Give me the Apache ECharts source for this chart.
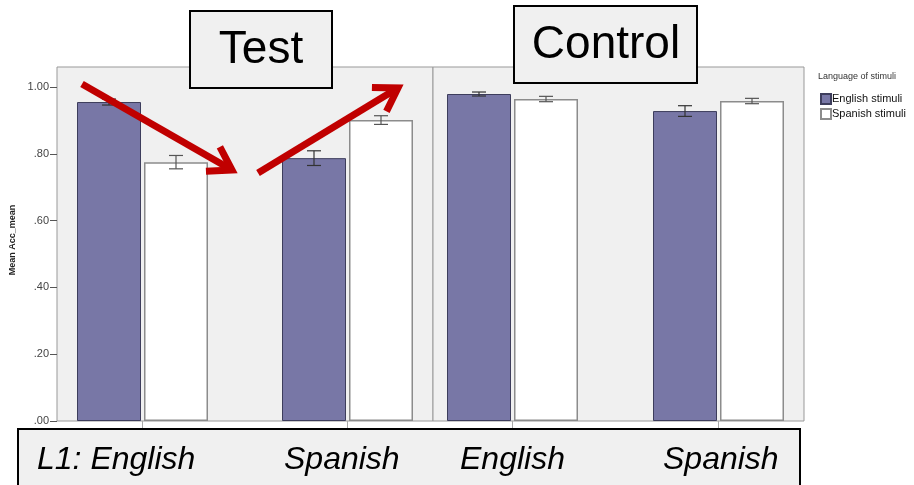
<!DOCTYPE html>
<html>
<head>
<meta charset="utf-8">
<script src="https://cdn.jsdelivr.net/npm/echarts@6/dist/echarts.min.js"></script>
<style>
html,body{margin:0;padding:0;background:#fff;}
#chart{width:914px;height:485px;}
</style>
</head>
<body>
<div id="chart"></div>
<script>
// ---- data ----
var l1Categories = ['English', 'Spanish'];
var seriesNames = ['English stimuli', 'Spanish stimuli'];
var testEnglishStim = [0.955, 0.787];
var testSpanishStim = [0.775, 0.901];
var testEnglishErr = [0.009, 0.022];
var testSpanishErr = [0.020, 0.013];
var controlEnglishStim = [0.979, 0.928];
var controlSpanishStim = [0.964, 0.958];
var controlEnglishErr = [0.006, 0.016];
var controlSpanishErr = [0.008, 0.008];
var yTicks = [0, 0.2, 0.4, 0.6, 0.8, 1.0];
var yTickLabels = ['.00', '.20', '.40', '.60', '.80', '1.00'];
var panelTitles = ['Test', 'Control'];
var bottomLabels = ['L1: English', 'Spanish', 'English', 'Spanish'];
var yAxisTitle = 'Mean Acc_mean';
var legendTitle = 'Language of stimuli';

// ---- styles ----
var purple = '#7877a6';
var font = 'Liberation Sans, Arial, sans-serif';
var BAR_W = 64, BAR_GAP = 3;

function errSeries(name, values, errs, xIdx, offset, color) {
  return {
    type: 'custom', xAxisIndex: xIdx, yAxisIndex: xIdx, z: 5, silent: true,
    data: values.map(function (v, i) { return [i, v, errs[i]]; }),
    renderItem: function (params, api) {
      var i = api.value(0), v = api.value(1), e = api.value(2);
      var t = api.coord([i, v + e]), b = api.coord([i, v - e]);
      var cx = t[0] + offset, hw = 7;
      var st = { stroke: color, lineWidth: 1.2 };
      return { type: 'group', children: [
        { type: 'line', shape: { x1: cx, y1: t[1], x2: cx, y2: b[1] }, style: st },
        { type: 'line', shape: { x1: cx - hw, y1: t[1], x2: cx + hw, y2: t[1] }, style: st },
        { type: 'line', shape: { x1: cx - hw, y1: b[1], x2: cx + hw, y2: b[1] }, style: st }
      ]};
    }
  };
}

function barSeries(name, values, idx, isEng) {
  return {
    name: name, type: 'bar', xAxisIndex: idx, yAxisIndex: idx,
    data: values, barWidth: BAR_W, barGap: (BAR_GAP / BAR_W * 100) + '%',
    itemStyle: isEng ? { color: purple, borderColor: '#3d3d5c', borderWidth: 1 }
                     : { color: '#ffffff', borderColor: '#8c8c8c', borderWidth: 1.5 },
    emphasis: { disabled: true }
  };
}

function arrow(x1, y1, x2, y2) {
  var dx = x2 - x1, dy = y2 - y1, L = Math.sqrt(dx * dx + dy * dy);
  var ux = dx / L, uy = dy / L, px = -uy, py = ux;
  var back = 22, side = 14;
  var st = { stroke: '#c00000', lineWidth: 7, lineCap: 'butt', lineJoin: 'miter' };
  return [
    { type: 'line', z: 50, shape: { x1: x1, y1: y1, x2: x2 - ux * 4, y2: y2 - uy * 4 }, style: st },
    { type: 'polyline', z: 50, shape: { points: [
      [x2 - ux * back + px * side, y2 - uy * back + py * side], [x2, y2],
      [x2 - ux * back - px * side, y2 - uy * back - py * side]] }, style: st }
  ];
}

var chart = echarts.init(document.getElementById('chart'));

var graphics = [];
// y axis title
graphics.push({ type: 'text', x: 13, y: 240, rotation: Math.PI / 2, z: 20,
  style: { text: yAxisTitle, font: 'bold 9px ' + font, fill: '#222', align: 'center', verticalAlign: 'middle' } });
// legend title
graphics.push({ type: 'text', x: 818, y: 72, z: 20,
  style: { text: legendTitle, font: '9px ' + font, fill: '#333' } });
// title boxes
graphics.push({ type: 'rect', z: 30, shape: { x: 190, y: 11, width: 142, height: 77 },
  style: { fill: '#f0f0f0', stroke: '#000', lineWidth: 2 } });
graphics.push({ type: 'text', z: 31, x: 261, y: 50,
  style: { text: panelTitles[0], font: '46px ' + font, fill: '#000', align: 'center', verticalAlign: 'middle' } });
graphics.push({ type: 'rect', z: 30, shape: { x: 514, y: 6, width: 183, height: 77 },
  style: { fill: '#f0f0f0', stroke: '#000', lineWidth: 2 } });
graphics.push({ type: 'text', z: 31, x: 606, y: 45,
  style: { text: panelTitles[1], font: '46px ' + font, fill: '#000', align: 'center', verticalAlign: 'middle' } });
// bottom box
graphics.push({ type: 'rect', z: 30, shape: { x: 18, y: 429, width: 782, height: 70 },
  style: { fill: '#f0f0f0', stroke: '#000', lineWidth: 2 } });
var bx = [37, 284, 460, 663];
bottomLabels.forEach(function (t, i) {
  graphics.push({ type: 'text', z: 31, x: bx[i], y: 460,
    style: { text: t, font: 'italic 32px ' + font, fill: '#000', verticalAlign: 'middle' } });
});
// arrows
graphics = graphics.concat(arrow(82, 84, 232, 170)).concat(arrow(258, 173, 398, 88));

var option = {
  animation: false,
  backgroundColor: '#ffffff',
  grid: [
    { left: 57, top: 67, width: 376, height: 354, show: true, backgroundColor: '#f0f0f0', borderColor: '#999', borderWidth: 1 },
    { left: 433, top: 67, width: 371, height: 354, show: true, backgroundColor: '#f0f0f0', borderColor: '#999', borderWidth: 1 },
    { left: 40, top: 87, width: 410, height: 334 },
    { left: 409.5, top: 87, width: 412, height: 334 },
    { left: 57, top: 87, width: 376, height: 334 }
  ],
  xAxis: [
    { gridIndex: 0, type: 'value', show: false },
    { gridIndex: 1, type: 'value', show: false },
    { gridIndex: 2, type: 'category', data: l1Categories, axisLine: { show: false }, axisLabel: { show: false },
      axisTick: { show: true, alignWithLabel: true, length: 7, lineStyle: { color: '#aaa' } } },
    { gridIndex: 3, type: 'category', data: l1Categories, axisLine: { show: false }, axisLabel: { show: false },
      axisTick: { show: true, alignWithLabel: true, length: 7, lineStyle: { color: '#aaa' } } },
    { gridIndex: 4, type: 'value', show: false }
  ],
  yAxis: [
    { gridIndex: 0, type: 'value', show: false },
    { gridIndex: 1, type: 'value', show: false },
    { gridIndex: 2, type: 'value', min: 0, max: 1, show: false },
    { gridIndex: 3, type: 'value', min: 0, max: 1, show: false },
    { gridIndex: 4, type: 'value', min: 0, max: 1, interval: 0.2,
      axisLine: { show: false }, splitLine: { show: false },
      axisTick: { show: true, length: 7, lineStyle: { color: '#555' } },
      axisLabel: { margin: 8, color: '#444', fontSize: 11, fontFamily: font,
        formatter: function (v) { var k = yTicks.findIndex(function (t) { return Math.abs(t - v) < 1e-6; }); return k >= 0 ? yTickLabels[k] : ''; } } }
  ],
  legend: {
    data: seriesNames, orient: 'vertical', left: 815, top: 88, itemGap: 3,
    itemWidth: 10, itemHeight: 10, icon: 'rect', selectedMode: false,
    textStyle: { fontSize: 11, fontFamily: font, color: '#111', padding: [0, 0, 0, -4] }
  },
  series: [
    barSeries(seriesNames[0], testEnglishStim, 2, true),
    barSeries(seriesNames[1], testSpanishStim, 2, false),
    barSeries(seriesNames[0], controlEnglishStim, 3, true),
    barSeries(seriesNames[1], controlSpanishStim, 3, false),
    errSeries(seriesNames[0], testEnglishStim, testEnglishErr, 2, -(BAR_W + BAR_GAP) / 2, '#333'),
    errSeries(seriesNames[1], testSpanishStim, testSpanishErr, 2, (BAR_W + BAR_GAP) / 2, '#555'),
    errSeries(seriesNames[0], controlEnglishStim, controlEnglishErr, 3, -(BAR_W + BAR_GAP) / 2, '#333'),
    errSeries(seriesNames[1], controlSpanishStim, controlSpanishErr, 3, (BAR_W + BAR_GAP) / 2, '#555'),
    { type: 'line', xAxisIndex: 4, yAxisIndex: 4, data: [], silent: true }
  ],
  graphic: graphics
};
chart.setOption(option);
</script>
</body>
</html>
